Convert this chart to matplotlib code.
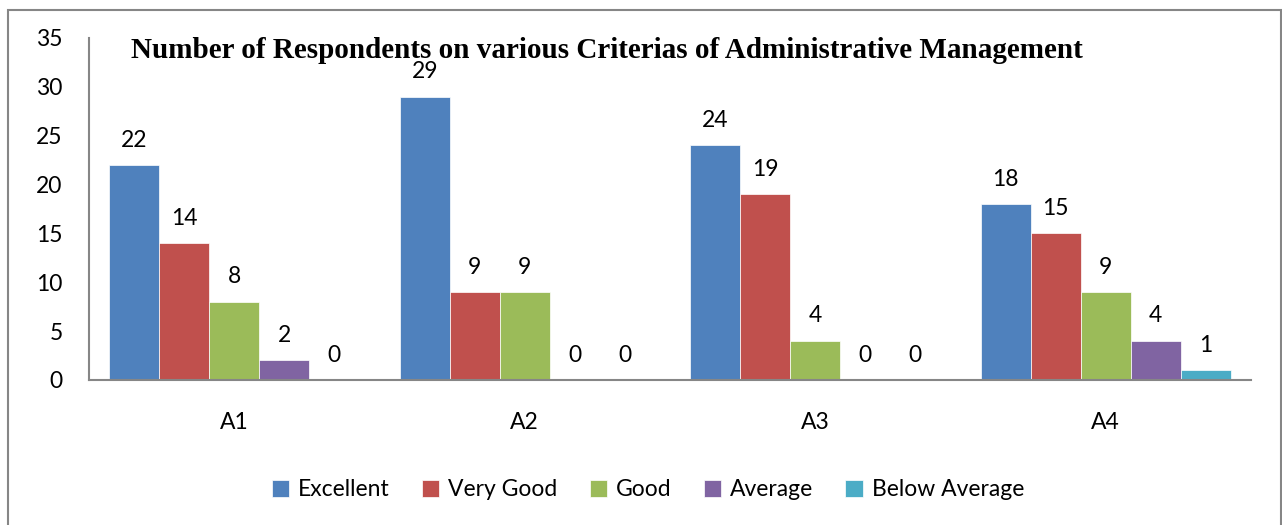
import numpy as np
import matplotlib.pyplot as plt
from matplotlib.patches import Rectangle

categories = ['A1', 'A2', 'A3', 'A4']
series = ['Excellent', 'Very Good', 'Good', 'Average', 'Below Average']
excellent = [22, 29, 24, 18]
very_good = [14, 9, 19, 15]
good = [8, 9, 4, 9]
average = [2, 0, 0, 4]
below_average = [0, 0, 0, 1]
colors = ['#4F81BD', '#C0504D', '#9BBB59', '#8064A2', '#4BACC6']

plt.rcParams['font.family'] = ['Lato', 'DejaVu Sans']
fs = 16.5

fig = plt.figure(figsize=(12.82, 5.25), dpi=100)
ax = fig.add_axes([89/1282, 1 - 380/525, (1251 - 89)/1282, (380 - 38)/525])

x = np.arange(len(categories))
w = 0.172
values = [excellent, very_good, good, average, below_average]
for i, (name, vals) in enumerate(zip(series, values)):
    pos = x + (i - 2) * w
    bars = ax.bar(pos, vals, w, color=colors[i], label=name,
                  edgecolor='white', linewidth=0.5)
    for xp, v in zip(pos, vals):
        ax.annotate(str(v), (xp, v), xytext=(0, 18), textcoords='offset points',
                    ha='center', va='center', fontsize=fs)

ax.set_xlim(-0.5, 3.5)
ax.set_ylim(0, 35)
ax.set_yticks(range(0, 36, 5))
ax.set_xticks(x)
ax.set_xticklabels(categories)
ax.tick_params(axis='both', length=0, labelsize=fs)
ax.tick_params(axis='y', pad=19)
ax.tick_params(axis='x', pad=23)
for s in ['top', 'right']:
    ax.spines[s].set_visible(False)
for s in ['left', 'bottom']:
    ax.spines[s].set_color('#868686')
    ax.spines[s].set_linewidth(1.5)

fig.text(607/1282, 1 - 50/525, 'Number of Respondents on various Criterias of Administrative Management',
         ha='center', va='center', fontsize=21, fontweight='bold',
         family='Liberation Serif')

fig.legend(loc='center', bbox_to_anchor=(648/1282, 1 - 490/525), ncol=5,
           frameon=False, fontsize=fs, handlelength=0.75, handleheight=0.75,
           handletextpad=0.4, columnspacing=1.4)

fig.patches.append(Rectangle((8/1282, -0.01), (1281 - 8)/1282, 1 - 10/525 + 0.01,
                             transform=fig.transFigure, fill=False,
                             edgecolor='#868686', linewidth=1.5))

fig.savefig('out.png', dpi=100)
